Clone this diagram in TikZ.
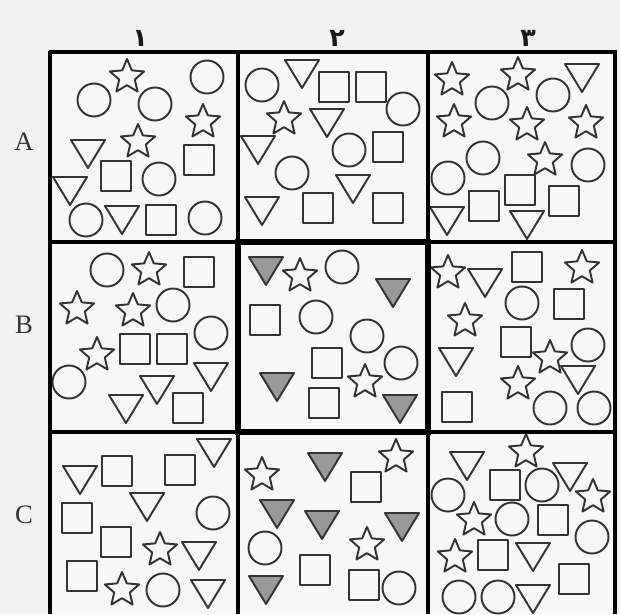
\documentclass[tikz,border=0pt]{standalone}
\usepackage{fontspec}
\setmainfont{Liberation Serif}
\newfontfamily\fadigits[Script=Arabic]{DejaVu Sans}
\begin{document}
\begin{tikzpicture}[x=0.75pt,y=-0.75pt,
  shp/.style={draw=black!80,line width=1.45pt,line join=round},
  grid/.style={draw=black,line width=3pt},
  rowlab/.style={text=black!80,font=\fontsize{20}{22}\selectfont,inner sep=0pt},
  collab/.style={text=black!90,font=\fadigits\bfseries\fontsize{19}{21}\selectfont,inner sep=0pt},
  cir/.pic={\draw[shp] (0,0) circle (16.5);},
  sqr/.pic={\draw[shp] (-15,-15) rectangle (15,15);},
  tri/.pic={\draw[shp] (-17,-14) -- (17,-14) -- (0,14) -- cycle;},
  gtri/.pic={\draw[shp,fill=black!40] (-17,-14) -- (17,-14) -- (0,14) -- cycle;},
  str/.pic={\draw[shp] (-90:18) -- (-54:8.2) -- (-18:18) -- (18:8.2) -- (54:18) -- (90:8.2) -- (126:18) -- (162:8.2) -- (198:18) -- (234:8.2) -- cycle;}
]
\useasboundingbox (0,0) rectangle (620,614);
\fill[black!5] (0,0) rectangle (620,614);
\fill[black!3] (50,52) rectangle (615,614);

% labels
\node[collab] (c1) at (140,38) {۱};
\node[collab] (c2) at (337,38) {۲};
\node[collab] (c3) at (528,38) {۳};
\node[rowlab] (rA) at (24,142) {A};
\node[rowlab] (rB) at (24,325) {B};
\node[rowlab] (rC) at (24,515) {C};

% A1
\foreach \p in {(207,77),(94,100),(155,104),(159,179),(86,220),(205,218)} \pic at \p {cir};
\foreach \p in {(127,77),(203,122),(138,142)} \pic at \p {str};
\foreach \p in {(88,154),(70,191),(122,220)} \pic at \p {tri};
\foreach \p in {(199,160),(116,176),(161,220)} \pic at \p {sqr};
% A2
\foreach \p in {(262,85),(403,109),(349,150),(292,173)} \pic at \p {cir};
\foreach \p in {(284,119)} \pic at \p {str};
\foreach \p in {(302,74),(327,123),(258,150),(353,189),(262,211)} \pic at \p {tri};
\foreach \p in {(334,87),(371,87),(388,147),(318,208),(388,208)} \pic at \p {sqr};
% A3
\foreach \p in {(492,103),(553,95),(483,158),(588,165),(448,178)} \pic at \p {cir};
\foreach \p in {(452,80),(518,75),(454,122),(527,125),(586,123),(545,160)} \pic at \p {str};
\foreach \p in {(582,78),(447,221),(527,225)} \pic at \p {tri};
\foreach \p in {(520,190),(484,206),(564,201)} \pic at \p {sqr};
% B1
\foreach \p in {(107,270),(173,305),(211,333),(69,382)} \pic at \p {cir};
\foreach \p in {(149,270),(77,309),(133,311),(97,355)} \pic at \p {str};
\foreach \p in {(211,377),(157,390),(126,409)} \pic at \p {tri};
\foreach \p in {(199,272),(135,349),(172,349),(188,408)} \pic at \p {sqr};
% B2
\foreach \p in {(342,267),(316,317),(367,336),(401,363)} \pic at \p {cir};
\foreach \p in {(300,276),(365,382)} \pic at \p {str};
\foreach \p in {(266,271),(393,293),(277,387),(400,409)} \pic at \p {gtri};
\foreach \p in {(265,320),(327,363),(324,403)} \pic at \p {sqr};
% B3
\foreach \p in {(522,303),(588,345),(550,408),(594,408)} \pic at \p {cir};
\foreach \p in {(448,273),(582,268),(465,321),(550,358),(518,384)} \pic at \p {str};
\foreach \p in {(485,283),(456,362),(578,380)} \pic at \p {tri};
\foreach \p in {(527,267),(569,304),(516,342),(457,407)} \pic at \p {sqr};
% C1
\foreach \p in {(213,513),(163,590)} \pic at \p {cir};
\foreach \p in {(160,550),(122,590)} \pic at \p {str};
\foreach \p in {(214,453),(80,480),(147,507),(199,556),(208,594)} \pic at \p {tri};
\foreach \p in {(117,471),(180,470),(77,518),(116,542),(82,576)} \pic at \p {sqr};
% C2
\foreach \p in {(265,548),(399,588)} \pic at \p {cir};
\foreach \p in {(262,475),(396,457),(367,545)} \pic at \p {str};
\foreach \p in {(325,467),(277,514),(322,525),(402,527),(266,590)} \pic at \p {gtri};
\foreach \p in {(366,487),(315,570),(364,585)} \pic at \p {sqr};
% C3
\begin{scope}
\clip (428,432) rectangle (615,614);
\foreach \p in {(542,485),(448,495),(512,519),(592,537),(459,597),(498,597)} \pic at \p {cir};
\foreach \p in {(526,452),(593,497),(474,520),(455,557)} \pic at \p {str};
\foreach \p in {(467,466),(570,477),(533,557),(533,599)} \pic at \p {tri};
\foreach \p in {(505,485),(553,520),(493,555),(574,579)} \pic at \p {sqr};
\end{scope}

% grid
\draw[grid] (48.5,52) -- (616.5,52);
\draw[grid] (48.5,242) -- (616.5,242);
\draw[grid] (48.5,432) -- (616.5,432);
\draw[grid] (50,50.5) -- (50,614);
\draw[grid] (238,50.5) -- (238,614);
\draw[grid] (428,50.5) -- (428,614);
\draw[grid] (615,50.5) -- (615,614);
\draw[grid,line width=3.8pt] (238,242) rectangle (428,432);
\end{tikzpicture}
\end{document}
